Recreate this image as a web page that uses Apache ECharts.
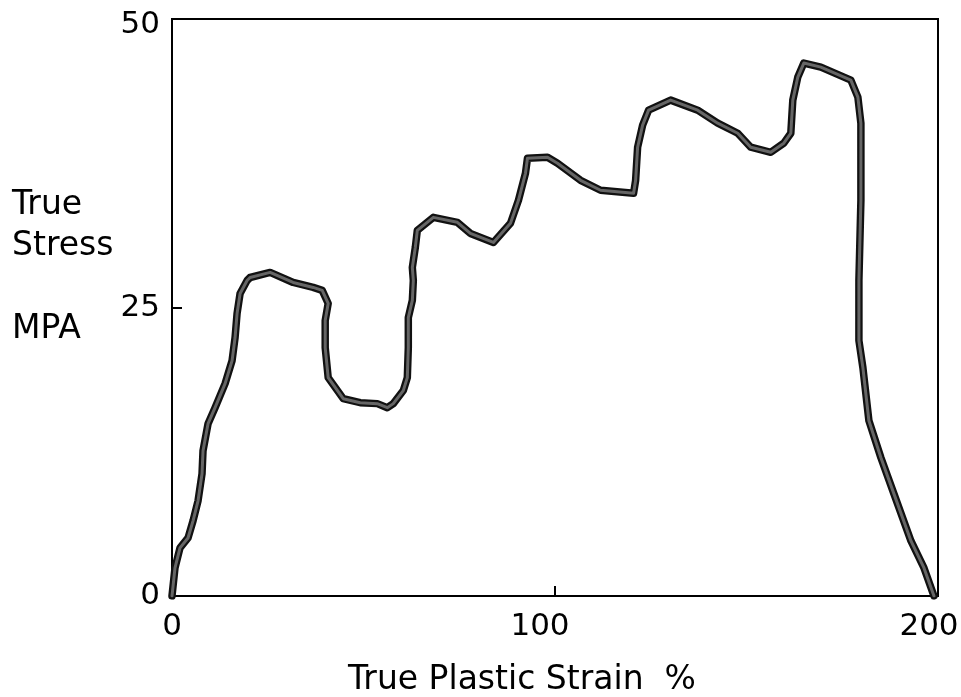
<!DOCTYPE html>
<html>
<head>
<meta charset="utf-8">
<script src="https://cdn.jsdelivr.net/npm/echarts@6/dist/echarts.min.js"></script>
<style>html,body{margin:0;padding:0;background:#fff}#c{width:961px;height:697px}</style>
</head>
<body>
<div id="c"></div>
<script>
// True plastic strain (%)
const strain = [0,0.26,0.78,2.09,4.18,5.49,6.80,7.84,8.10,9.41,11.24,13.86,15.69,16.47,16.99,17.78,19.61,20.39,25.62,31.63,36.86,39.22,40.78,40.0,40.0,40.78,44.71,49.15,53.59,56.21,57.78,60.39,61.44,61.70,61.70,62.75,63.01,62.75,63.53,64.05,68.24,74.51,77.91,83.92,88.37,90.46,92.29,92.81,98.04,100.65,106.67,111.90,120.52,121.05,121.57,122.88,124.44,130.20,137.25,142.48,147.71,151.11,156.34,159.74,161.57,162.09,163.40,164.97,169.41,177.25,179.08,179.87,179.87,179.35,179.35,180.39,181.96,185.10,188.50,192.94,196.34,198.95];
// True stress (MPa)
const stress = [0,0.17,2.43,4.17,5.03,6.51,8.25,10.59,12.59,14.93,16.32,18.40,20.40,22.40,24.48,26.22,27.34,27.60,28.04,27.17,26.74,26.48,25.35,23.87,21.53,18.92,17.10,16.75,16.67,16.32,16.67,17.80,18.92,21.53,24.13,25.61,27.34,28.47,30.21,31.68,32.81,32.38,31.42,30.64,32.29,34.29,36.63,37.93,38.02,37.50,36.02,35.16,34.90,36.02,38.89,40.80,42.10,42.97,42.10,40.97,40.10,38.89,38.45,39.24,40.10,42.97,44.97,46.18,45.83,44.70,43.23,40.97,34.29,27.34,22.14,19.79,15.19,11.98,8.85,4.77,2.43,0];
const xTicks = [0, 100, 200];
const yTicks = [0, 25, 50];
const yTitle = ["True", "Stress", "MPA"];
const xTitle = "True Plastic Strain  %";

const pts = strain.map((x, i) => [x, stress[i]]);
const font = "DejaVu Sans";
const tfont = '33px "DejaVu Sans"';
const chart = echarts.init(document.getElementById('c'));
chart.setOption({
  animation: false,
  backgroundColor: '#fff',
  grid: { left: 172, right: 23, top: 19, bottom: 101, show: true, borderColor: '#000', borderWidth: 2, outerBoundsMode: 'none', containLabel: false },
  xAxis: {
    type: 'value', min: xTicks[0], max: xTicks[2], interval: 100,
    axisLine: { show: true, lineStyle: { color: '#000', width: 2 } },
    axisTick: { show: true, inside: true, length: 10, lineStyle: { color: '#000', width: 2 } },
    splitLine: { show: false },
    axisLabel: {
      color: '#000', fontFamily: font, fontSize: 31, margin: 15,
      formatter: v => v === 100 ? '{m|' + v + '}' : v === 200 ? '{r|' + v + '}' : '{l|' + v + '}',
      rich: {
        l: { fontFamily: font, fontSize: 31, color: '#000' },
        m: { fontFamily: font, fontSize: 31, color: '#000', padding: [0, 30, 0, 0] },
        r: { fontFamily: font, fontSize: 31, color: '#000', padding: [0, 18, 0, 0] }
      }
    }
  },
  yAxis: {
    type: 'value', min: yTicks[0], max: yTicks[2], interval: 25,
    axisLine: { show: true, lineStyle: { color: '#000', width: 2 } },
    axisTick: { show: true, inside: true, length: 10, lineStyle: { color: '#000', width: 2 } },
    splitLine: { show: false },
    axisLabel: {
      color: '#000', fontFamily: font, fontSize: 31, margin: 12,
      formatter: v => v === 50 ? '{t|' + v + '}' : '{n|' + v + '}',
      rich: {
        t: { fontFamily: font, fontSize: 31, color: '#000', padding: [12, 0, 0, 0] },
        n: { fontFamily: font, fontSize: 31, color: '#000' }
      }
    }
  },
  graphic: [
    { type: 'text', left: 12, top: 189, style: { text: yTitle[0], font: tfont, fill: '#000' } },
    { type: 'text', left: 12, top: 230, style: { text: yTitle[1], font: tfont, fill: '#000' } },
    { type: 'text', left: 12, top: 313, style: { text: yTitle[2], font: tfont, fill: '#000' } },
    { type: 'text', left: 348, top: 664, style: { text: xTitle, font: tfont, fill: '#000' } }
  ],
  series: [
    { type: 'line', data: pts, showSymbol: false, lineStyle: { color: '#111', width: 7.5, join: 'round', cap: 'round' }, z: 3 },
    { type: 'line', data: pts, showSymbol: false, lineStyle: { color: '#666', width: 3, join: 'round', cap: 'round' }, z: 4 }
  ]
});
</script>
</body>
</html>
